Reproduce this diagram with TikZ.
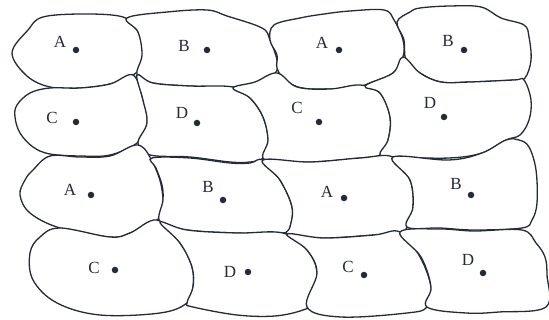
\documentclass[tikz,border=0pt]{standalone}
\usepackage{fontspec}
\setmainfont{Liberation Serif}
\definecolor{ink}{RGB}{36,42,58}
\begin{document}
\begin{tikzpicture}[x=1pt,y=-1pt,
  cell/.style={draw=ink,line width=1.3pt,fill=white},
  lbl/.style={font=\fontsize{17}{17}\selectfont,text=ink,inner sep=0pt},
  pt/.style={circle,fill=ink,inner sep=0pt,minimum size=6.5pt}]
\useasboundingbox (0,0) rectangle (549,320);
\fill[white] (0,0) rectangle (549,320);
% row 1
\draw[cell] plot[smooth cycle,tension=0.6] coordinates {(43,17)(85,14)(123,17)(137,30)(143,45)(141,65)(133,75)(110,84)(80,88)(50,87)(27,76)(12,53)(28,30)};
\draw[cell] plot[smooth cycle,tension=0.6] coordinates {(127,18)(167,12)(207,10)(227,16)(262,28)(270,40)(277,60)(276,72)(262,80)(233,87)(190,86)(153,83)(137,75)(142,55)(138,32)};
\draw[cell] plot[smooth cycle,tension=0.6] coordinates {(274,25)(300,18)(324,14)(350,11)(384,10)(394,20)(403,40)(403,57)(393,73)(370,83)(357,87)(330,89)(302,88)(285,80)(277,68)(277,55)(270,40)};
\draw[cell] plot[smooth cycle,tension=0.6] coordinates {(397,22)(410,12)(420,8)(450,6)(481,7)(501,18)(524,25)(529,37)(531,60)(525,78)(514,80)(470,82)(441,82)(420,73)(406,60)(404,40)};
% row 2
\draw[cell] plot[smooth cycle,tension=0.6] coordinates {(50,88)(30,93)(17,105)(15,117)(20,133)(33,147)(50,154)(80,156)(110,155)(137,143)(147,123)(143,100)(133,75)(110,84)(80,88)};
\draw[cell] plot[smooth cycle,tension=0.6] coordinates {(137,75)(153,83)(190,86)(233,87)(250,98)(263,117)(268,140)(263,158)(250,162)(230,162)(190,157)(150,155)(138,143)(147,123)(143,100)};
\draw[cell] plot[smooth cycle,tension=0.6] coordinates {(233,88)(255,82)(277,73)(297,87)(330,89)(360,85)(380,93)(390,117)(388,140)(380,155)(360,158)(310,162)(265,160)(268,140)(263,117)(250,98)};
\draw[cell] plot[smooth cycle,tension=0.6] coordinates {(403,57)(420,73)(441,82)(470,82)(514,80)(524,80)(531,100)(529,120)(520,135)(506,140)(482,153)(449,158)(400,157)(380,155)(388,140)(390,117)(380,93)(365,86)(393,73)};
% row 3
\draw[cell] plot[smooth cycle,tension=0.6] coordinates {(50,156)(80,157)(110,156)(138,145)(153,163)(162,190)(160,217)(130,233)(110,237)(60,228)(30,213)(20,195)(25,180)(33,170)};
\draw[cell] plot[smooth cycle,tension=0.6] coordinates {(152,158)(190,158)(230,163)(250,163)(263,160)(280,180)(292,207)(290,227)(283,233)(237,233)(187,230)(160,222)(163,200)(162,185)(156,168)};
\draw[cell] plot[smooth cycle,tension=0.6] coordinates {(263,160)(310,162)(360,158)(393,157)(410,180)(413,207)(407,227)(400,232)(374,235)(324,238)(294,235)(286,233)(290,227)(292,207)(280,180)};
\draw[cell] plot[smooth cycle,tension=0.6] coordinates {(393,157)(449,160)(482,153)(506,140)(519,140)(529,147)(536,170)(537,203)(532,220)(522,228)(474,230)(440,228)(407,227)(413,207)(410,180)};
% row 4
\draw[cell] plot[smooth cycle,tension=0.6] coordinates {(60,228)(40,237)(30,253)(33,280)(57,303)(100,315)(160,313)(187,303)(193,287)(192,267)(180,243)(157,220)(130,233)(110,237)};
\draw[cell] plot[smooth cycle,tension=0.6] coordinates {(160,222)(187,230)(237,233)(283,233)(307,250)(317,273)(310,303)(303,310)(275,316)(237,315)(193,307)(187,303)(193,287)(192,267)(180,243)};
\draw[cell] plot[smooth cycle,tension=0.6] coordinates {(287,234)(324,238)(374,235)(400,232)(420,257)(431,287)(427,307)(407,313)(341,317)(307,307)(317,273)(307,250)};
\draw[cell] plot[smooth cycle,tension=0.6] coordinates {(400,232)(440,229)(474,231)(522,230)(536,243)(545,257)(547,275)(546,307)(499,312)(466,313)(427,307)(431,287)(421,257)};
% labels
\node[lbl] (lA1) at (60,42) {A};  \node[pt] (pA1) at (76,50) {};
\node[lbl] (lB1) at (184,46) {B}; \node[pt] (pB1) at (207,50) {};
\node[lbl] (lA2) at (322,43) {A}; \node[pt] (pA2) at (339,50) {};
\node[lbl] (lB2) at (448,41) {B}; \node[pt] (pB2) at (464,50) {};
\node[lbl] (lC1) at (52,118) {C}; \node[pt] (pC1) at (76,122) {};
\node[lbl] (lD1) at (182,113) {D}; \node[pt] (pD1) at (197,123) {};
\node[lbl] (lC2) at (297,108) {C}; \node[pt] (pC2) at (319,122) {};
\node[lbl] (lD2) at (430,103) {D}; \node[pt] (pD2) at (444,117) {};
\node[lbl] (lA3) at (70,190) {A}; \node[pt] (pA3) at (91,195) {};
\node[lbl] (lB3) at (208,187) {B}; \node[pt] (pB3) at (223,200) {};
\node[lbl] (lA4) at (327,192) {A}; \node[pt] (pA4) at (344,198) {};
\node[lbl] (lB4) at (456,184) {B}; \node[pt] (pB4) at (471,195) {};
\node[lbl] (lC3) at (94,268) {C}; \node[pt] (pC3) at (115,270) {};
\node[lbl] (lD3) at (230,272) {D}; \node[pt] (pD3) at (248,272) {};
\node[lbl] (lC4) at (348,267) {C}; \node[pt] (pC4) at (364,275) {};
\node[lbl] (lD4) at (468,260) {D}; \node[pt] (pD4) at (483,273) {};
\end{tikzpicture}
\end{document}
